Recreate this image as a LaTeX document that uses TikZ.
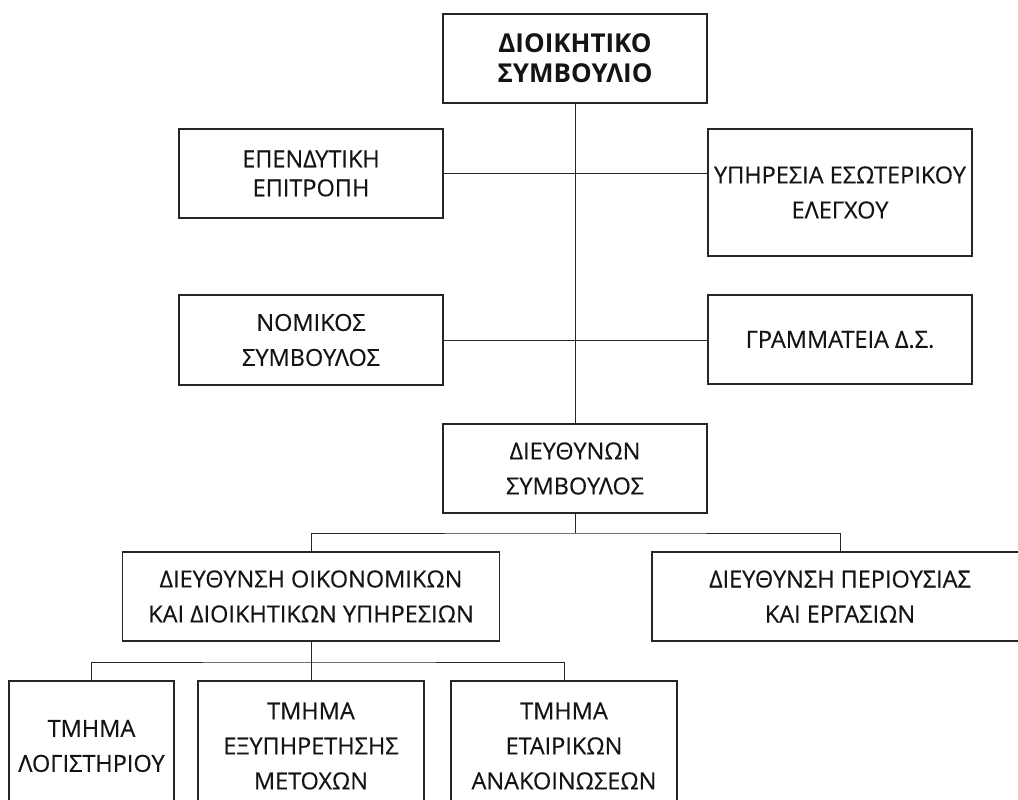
\documentclass[tikz,border=0pt]{standalone}
\usepackage{fontspec}
\setmainfont{Open Sans}
\newfontfamily\unitfont{Open Sans}[FakeBold=0.35]
\tikzset{
	unit/.style={draw=black!85, line width=1.3pt, inner sep=0pt, align=center, text=black!92, font=\unitfont\fontsize{23.5}{35}\selectfont},
	link/.style={draw=black!85, line width=1pt},
}
\begin{document}
\begin{tikzpicture}[x=1pt,y=-1pt]
	\pgfmathsetmacro\CL{311}
	\pgfmathsetmacro\CM{575}
	\pgfmathsetmacro\CR{840}
	\pgfmathsetmacro\W{264}
	\useasboundingbox (0,0) rectangle (1018,800);
	\clip (0,0) rectangle (1018,800);

	\node[unit, minimum width=\W pt, minimum height=89pt, font=\bfseries\fontsize{26}{30}\selectfont] (board) at (\CM,58.5) {ΔΙΟΙΚΗΤΙΚΟ\\ΣΥΜΒΟΥΛΙΟ};
	\node[unit, minimum width=\W pt, minimum height=89pt, font=\unitfont\fontsize{23.5}{29}\selectfont] (invest) at (\CL,173.5) {ΕΠΕΝΔΥΤΙΚΗ\\ΕΠΙΤΡΟΠΗ};
	\node[unit, minimum width=\W pt, minimum height=127pt] (audit) at (\CR,192.5) {ΥΠΗΡΕΣΙΑ ΕΣΩΤΕΡΙΚΟΥ\\ΕΛΕΓΧΟΥ};
	\node[unit, minimum width=\W pt, minimum height=90pt] (legal) at (\CL,340) {ΝΟΜΙΚΟΣ\\ΣΥΜΒΟΥΛΟΣ};
	\node[unit, minimum width=\W pt, minimum height=89pt] (secr) at (\CR,339.5) {ΓΡΑΜΜΑΤΕΙΑ Δ.Σ.};
	\node[unit, minimum width=\W pt, minimum height=89pt] (ceo) at (\CM,468.5) {ΔΙΕΥΘΥΝΩΝ\\ΣΥΜΒΟΥΛΟΣ};
	\node[unit, minimum width=377pt, minimum height=89pt] (finadm) at (\CL,596.5) {ΔΙΕΥΘΥΝΣΗ ΟΙΚΟΝΟΜΙΚΩΝ\\ΚΑΙ ΔΙΟΙΚΗΤΙΚΩΝ ΥΠΗΡΕΣΙΩΝ};
	\node[unit, minimum width=376pt, minimum height=89pt] (prop) at (\CR,596.5) {ΔΙΕΥΘΥΝΣΗ ΠΕΡΙΟΥΣΙΑΣ\\ΚΑΙ ΕΡΓΑΣΙΩΝ};
	\node[unit, minimum width=165pt, minimum height=130pt] (acct) at (91.5,746) {ΤΜΗΜΑ\\ΛΟΓΙΣΤΗΡΙΟΥ};
	\node[unit, minimum width=226pt, minimum height=130pt] (share) at (\CL,746) {ΤΜΗΜΑ\\ΕΞΥΠΗΡΕΤΗΣΗΣ\\ΜΕΤΟΧΩΝ};
	\node[unit, minimum width=226pt, minimum height=130pt] (corp) at (564,746) {ΤΜΗΜΑ\\ΕΤΑΙΡΙΚΩΝ\\ΑΝΑΚΟΙΝΩΣΕΩΝ};

	\coordinate (split1) at (\CM,533);
	\coordinate (split2) at (\CL,662);

	\draw[link] (board.south) -- (ceo.north);
	\draw[link] (invest.east) -- (invest.east -| audit.west);
	\draw[link] (legal.east) -- (legal.east -| secr.west);
	\draw[link] (ceo.south) -- (split1);
	\draw[link] (finadm.north) |- (split1) -| (prop.north);
	\draw[link] (finadm.south) -- (share.north);
	\draw[link] (acct.north) |- (split2) -| (corp.north);
\end{tikzpicture}
\end{document}
